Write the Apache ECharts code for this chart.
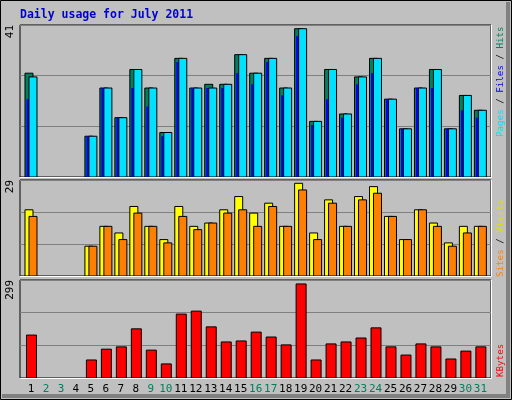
<!DOCTYPE html>
<html><head><meta charset="utf-8">
<script src="https://cdn.jsdelivr.net/npm/echarts@6/dist/echarts.min.js"></script>
<style>html,body{margin:0;padding:0;background:#fff}#c{width:512px;height:400px}</style>
</head><body><div id="c"></div>
<script>
const days = ['1','2','3','4','5','6','7','8','9','10','11','12','13','14','15','16','17','18','19','20','21','22','23','24','25','26','27','28','29','30','31'];
const weekend = ['2','3','9','10','16','17','23','24','30','31'];
const hits  = [28,0,0,0,11,24,16,29,24,12,32,24,25,25,33,28,32,24,40,15,29,17,27,32,21,13,24,29,13,22,18];
const pages = [27,0,0,0,11,24,16,29,24,12,32,24,24,25,33,28,32,24,40,15,29,17,27,32,21,13,24,29,13,22,18];
const files = [21,0,0,0,11,24,16,24,19,11,31,24,24,24,28,25,31,22,38,14,21,16,25,28,21,13,24,24,13,18,16];
const visits = [20,0,0,0,9,15,13,21,15,11,21,15,16,20,24,19,22,15,28,13,23,15,24,27,18,11,20,16,10,15,15];
const sites  = [18,0,0,0,9,15,11,19,15,10,18,14,16,19,20,15,21,15,26,11,22,15,23,25,18,11,20,15,9,13,15];
const kbytes = [131,0,0,0,55,88,95,150,85,43,195,204,156,110,113,140,125,101,287,55,104,110,122,153,95,70,104,95,58,82,95];
const maxTop = 41, maxMid = 29, maxBot = 299;

const chart = echarts.init(document.getElementById('c'));
const mono = 'DejaVu Sans Mono';
const panels = [{top:25,height:152,max:maxTop},{top:180,height:96,max:maxMid},{top:280,height:98,max:maxBot}];
const grids = panels.map(p=>({left:20,width:471,top:p.top,height:p.height,show:true,borderColor:'#000',borderWidth:1,backgroundColor:'transparent'}));
grids.push({left:23.5,width:464.4,top:378,height:1});
const xAxes = panels.map((p,i)=>({type:'value',gridIndex:i,min:0.266,max:31.71,show:false}));
xAxes.push({type:'category',gridIndex:3,data:days,axisLine:{show:false},axisTick:{show:false},
  axisLabel:{interval:0,margin:5,fontFamily:mono,fontSize:11,color:(v)=>weekend.includes(v)?'#00805C':'#000'}});
const yAxes = panels.map((p,i)=>({type:'value',gridIndex:i,min:0,max:p.max,interval:p.max/3,
  axisLine:{show:false},axisTick:{show:false},
  splitLine:{lineStyle:{color:'#808080',width:1}},
  axisLabel:{rotate:90,align:'right',margin:4,fontFamily:mono,fontSize:11,color:'#000',
    formatter:(v)=>Math.abs(v-p.max)<0.01?String(p.max):''}}));
yAxes.push({type:'value',gridIndex:3,show:false});

function rect(api,day,val,x0,x1,fill,stroke){
  const c=api.coord([day,val]); const b=api.coord([day,0]);
  return {type:'rect',shape:{x:c[0]+x0,y:c[1],width:x1-x0,height:b[1]-c[1]},
    style:{fill:fill,stroke:stroke||'none',lineWidth:stroke?1:0}};
}
const dayIdx = days.map(Number);
function mk(gi,arrs,fn){
  return {type:'custom',xAxisIndex:gi,yAxisIndex:gi,data:dayIdx.map((d,i)=>[d].concat(arrs.map(a=>a[i]))),
    renderItem:(params,api)=>{const d=api.value(0);const v=arrs.map((a,k)=>api.value(k+1));
      return {type:'group',children:v.every(x=>!x)?[]:fn(api,d,v)};}};
}
const series=[
  mk(0,[hits,files,pages],(api,d,v)=>[
    rect(api,d,v[0],-6,2,'#00805C','#000'),
    rect(api,d,v[1],-4.5,-2,'#0000FF',null),
    rect(api,d,v[2],-2,6,'#00E0FF','#000')]),
  mk(1,[visits,sites],(api,d,v)=>[
    rect(api,d,v[0],-6,2,'#FFFF00','#000'),
    rect(api,d,v[1],-2,6,'#FF8000','#000')]),
  mk(2,[kbytes],(api,d,v)=>[rect(api,d,v[0],-4.5,5.5,'#FF0000','#000')])
];
function vtext(x,y,parts){
  return {type:'text',x:x,y:y,rotation:Math.PI/2,z:10,
    style:{text:parts.map((p,i)=>'{s'+i+'|'+p[0]+'}').join(''),align:'left',verticalAlign:'middle',
      rich:Object.fromEntries(parts.map((p,i)=>['s'+i,{fill:p[1],fontFamily:mono,fontSize:9.2}]))}};
}
const graphic=[
  {type:'rect',shape:{x:0,y:0,width:512,height:400},style:{fill:'#C0C0C0'},z:-10,silent:true},
  {type:'rect',shape:{x:506,y:2,width:4,height:396},style:{fill:'#808080'},z:-9},
  {type:'rect',shape:{x:2,y:394,width:508,height:4},style:{fill:'#808080'},z:-9},
  {type:'rect',shape:{x:0.5,y:0.5,width:511,height:399},style:{fill:'none',stroke:'#000',lineWidth:1},z:-8},
  ...panels.map(p=>({type:'polyline',shape:{points:[[20,p.top+p.height+0.5],[491.5,p.top+p.height+0.5],[491.5,p.top]]},style:{stroke:'#fff',lineWidth:1,fill:null},z:20})),
  {type:'text',x:20,y:15,style:{text:'Daily usage for July 2011',fill:'#0000D0',fontFamily:mono,fontWeight:'bold',fontSize:11.5,verticalAlign:'middle'}},
  vtext(501,137,[['Pages','#00E0FF'],[' / ','#000'],['Files','#0000FF'],[' / ','#000'],['Hits','#00805C']]),
  vtext(501,277,[['Sites','#FF8000'],[' / ','#000'],['Visits','#E0E000']]),
  vtext(501,377,[['KBytes','#FF0000']])
];
chart.setOption({animation:false,grid:grids,xAxis:xAxes,yAxis:yAxes,series:series,graphic:graphic});
</script></body></html>
